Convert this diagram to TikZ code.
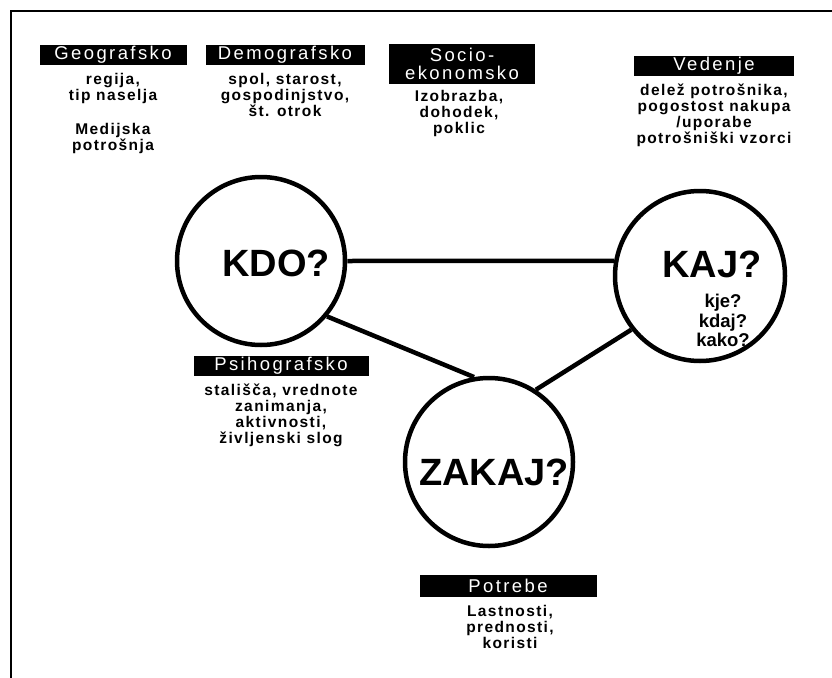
\documentclass[tikz,border=0pt]{standalone}
\usepackage{fontspec}
\setmainfont{Liberation Sans}
\newfontfamily\labfont[LetterSpace=13]{Liberation Sans}
\newfontfamily\bodyfont[LetterSpace=9]{Liberation Sans Bold}
\newfontfamily\bigfont{Liberation Sans Bold}
\begin{document}
\begin{tikzpicture}[x=1pt,y=-1pt,
  hdr/.style={fill=black,text=white,font=\labfont\fontsize{18.5}{18}\selectfont,inner sep=0pt,align=center,minimum height=20pt},
  body/.style={font=\bodyfont\fontsize{15.5}{16}\selectfont,align=center,inner sep=0pt,anchor=north},
  ring/.style={circle,draw,line width=4.5pt,minimum size=168pt,inner sep=0pt},
  link/.style={line width=4.5pt},
  bigq/.style={font=\bigfont\fontsize{38}{38}\selectfont,inner sep=0pt},
  smallq/.style={font=\bigfont\fontsize{18.5}{19.5}\selectfont,align=center,inner sep=0pt}]
\useasboundingbox (0,0) rectangle (832,677);
\fill[white] (0,0) rectangle (832,677);
% frame
\coordinate (fbl) at (11,700);
\coordinate (ftl) at (11,11);
\coordinate (ftr) at (850,11);
\draw[line width=2pt] (fbl) -- (ftl) -- (ftr);

% circles
\node[ring] (kdo) at (261,261) {};
\node[ring,minimum size=170pt] (kaj) at (700,276) {};
\node[ring] (zakaj) at (489,462) {};
\node[bigq] (kdot) at (276,263) {KDO?};
\node[bigq] (kajt) at (712,264) {KAJ?};
\node[smallq,anchor=north] (kajs) at (723,294) {kje?\\kdaj?\\kako?};
\node[bigq] (zakajt) at (494,472) {ZAKAJ?};

% connectors
\draw[link] (kdo.east) -- (kaj.170);
\draw[link] (kdo.-40) -- (zakaj.100);
\draw[link] (kaj.218) -- (zakaj.57);

% headers
\node[hdr,minimum width=147pt] (geo) at (113,55) {Geografsko};
\node[hdr,minimum width=159pt] (demo) at (285,55) {Demografsko};
\node[hdr,minimum width=146pt,minimum height=40pt] (socio) at (462,64) {Socio-\\ekonomsko};
\node[hdr,minimum width=160pt] (ved) at (714,66) {Vedenje};
\node[hdr,minimum width=175pt] (psi) at (281,366) {Psihografsko};
\node[hdr,minimum width=177pt,minimum height=22pt] (pot) at (508,586) {Potrebe};

% bodies
\node[body] (geob) at (113,73) {regija,\\tip naselja};
\node[body] (geob2) at (113,123) {Medijska\\potrošnja};
\node[body] (demob) at (285,73) {spol, starost,\\gospodinjstvo,\\št. otrok};
\node[body] (sociob) at (459,90) {Izobrazba,\\dohodek,\\poklic};
\node[body] (vedb) at (714,84) {delež potrošnika,\\pogostost nakupa\\/uporabe\\potrošniški vzorci};
\node[body] (psib) at (281,384) {stališča, vrednote\\zanimanja,\\aktivnosti,\\življenski slog};
\node[body] (potb) at (510,605) {Lastnosti,\\prednosti,\\koristi};
\end{tikzpicture}
\end{document}
